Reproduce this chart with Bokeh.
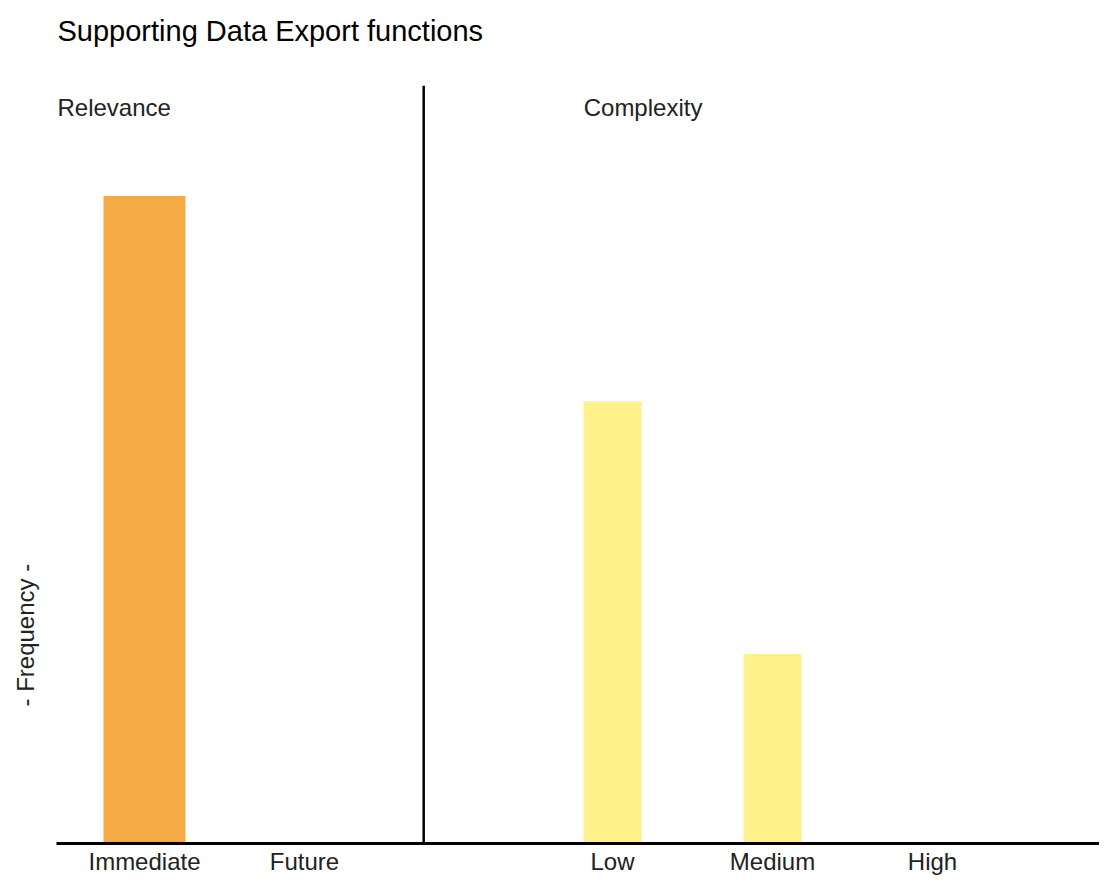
from bokeh.plotting import figure
from bokeh.models import Range1d, Label, Span, FixedTicker, ColumnDataSource, Title
from bokeh.embed import file_html
from bokeh.resources import INLINE

# ---- data ----
title_text = "Supporting Data Export functions"
y_label_text = "- Frequency -"
group_names = ["Relevance", "Complexity"]
relevance_cats = ["Immediate", "Future"]
relevance_vals = [41, 0]
complexity_cats = ["Low", "Medium", "High"]
complexity_vals = [28, 12, 0]

# ---- styling / layout ----
FONT = "Liberation Sans"
ORANGE = "#F5AB45"
YELLOW = "#FFF18A"
TXT = "#222222"
PX_PER_X = 160.0
W, H = 1099, 877
LEFT, TOP, BOTTOM = 56, 85, 32
frame_w = W - LEFT
Y_END = 48.0

rel_x = [float(i) for i in range(len(relevance_cats))]
divider_x = 1.745
comp_offset = 2.925
comp_x = [comp_offset + i for i in range(len(complexity_cats))]

x0 = -0.55
x_range = Range1d(x0, x0 + frame_w / PX_PER_X)
y_range = Range1d(0, Y_END)

p = figure(width=W, height=H, x_range=x_range, y_range=y_range, title=None,
           output_backend="svg", toolbar_location=None, tools="",
           min_border_left=LEFT, min_border_right=0, min_border_top=TOP,
           min_border_bottom=BOTTOM)
p.outline_line_color = None
p.grid.visible = False
p.yaxis.visible = False

# spacer between frame and main title, then main title (further from frame)
p.add_layout(Title(text=" ", text_font_size="1px", standoff=36), "above")
p.add_layout(Title(text=title_text, align="left", offset=1, standoff=0,
                   text_font=FONT, text_font_size="29px", text_font_style="normal",
                   text_color="black"), "above")

# spacer between frame and y label, then y label
p.add_layout(Title(text=" ", text_font_size="1px", standoff=15), "left")
p.add_layout(Title(text=y_label_text, align="left", offset=137, standoff=0,
                   text_font=FONT, text_font_size="24px", text_font_style="normal",
                   text_color=TXT), "left")

rel_src = ColumnDataSource(dict(x=rel_x, top=relevance_vals, cat=relevance_cats))
comp_src = ColumnDataSource(dict(x=comp_x, top=complexity_vals, cat=complexity_cats))
p.vbar(x="x", top="top", bottom=0, width=0.5125, source=rel_src,
       fill_color=ORANGE, line_color=None)
p.vbar(x="x", top="top", bottom=0, width=0.3625, source=comp_src,
       fill_color=YELLOW, line_color=None)

p.add_layout(Span(location=divider_x, dimension="height", line_color="black", line_width=2.5))

ax = p.xaxis[0]
ax.ticker = FixedTicker(ticks=rel_x + comp_x)
ax.major_label_overrides = {**{x: c for x, c in zip(rel_x, relevance_cats)},
                            **{x: c for x, c in zip(comp_x, complexity_cats)}}
ax.major_tick_line_color = None
ax.major_tick_out = 0
ax.major_tick_in = 0
ax.minor_tick_line_color = None
ax.minor_tick_out = 0
ax.axis_line_color = "black"
ax.axis_line_width = 3
ax.major_label_text_font = FONT
ax.major_label_text_font_size = "24px"
ax.major_label_text_color = TXT
ax.major_label_standoff = 4

lab_y = Y_END - 22.5 * Y_END / 760.0
p.add_layout(Label(x=1, y=lab_y, x_units="screen", y_units="data",
                   text=group_names[0], text_font=FONT, text_font_size="24px",
                   text_color=TXT, text_baseline="middle"))
p.add_layout(Label(x=comp_x[0] - 0.18, y=lab_y, x_units="data", y_units="data",
                   text=group_names[1], text_font=FONT, text_font_size="24px",
                   text_color=TXT, text_baseline="middle"))

open("out.html", "w").write(file_html(p, INLINE))
